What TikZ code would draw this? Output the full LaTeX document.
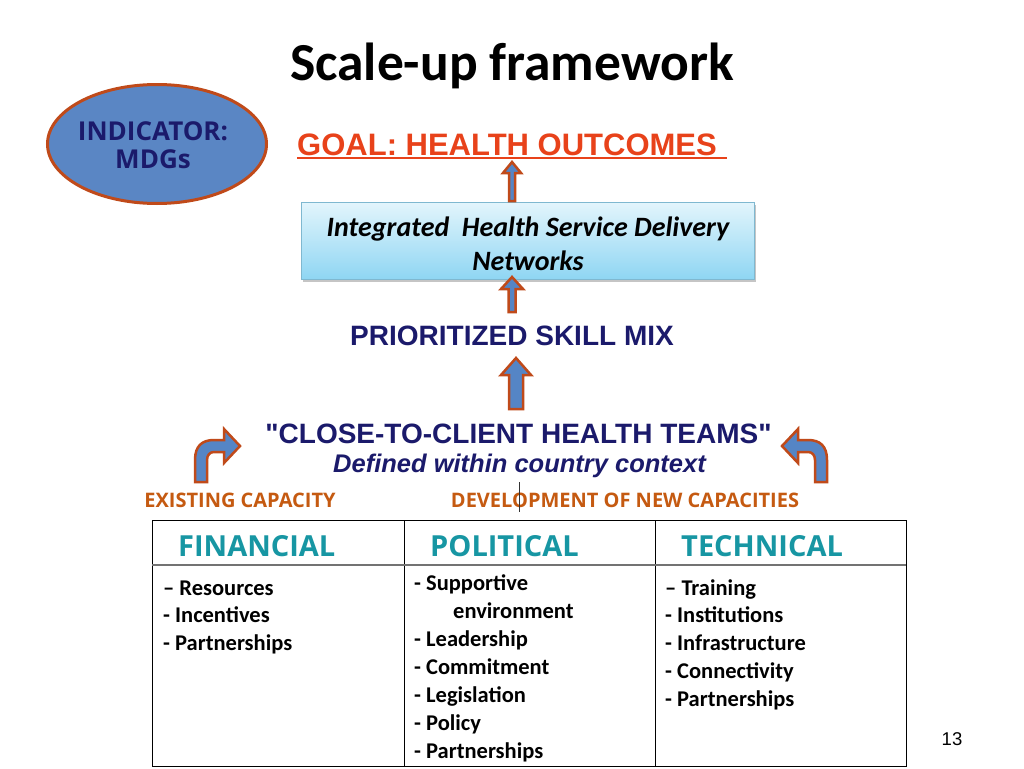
\documentclass[tikz,border=0pt]{standalone}
\usepackage{fontspec}
\setmainfont{Carlito}
\newfontfamily\arialf{Liberation Sans}
\newfontfamily\osans{Open Sans}
\usetikzlibrary{calc,shadows,shapes.geometric}
\definecolor{navy}{HTML}{1B1A6B}
\definecolor{rust}{HTML}{C04A1A}
\definecolor{goalred}{HTML}{E8421A}
\definecolor{capcol}{HTML}{C55A11}
\definecolor{tealc}{HTML}{1796A3}
\definecolor{arrowblue}{HTML}{5585C5}
\definecolor{ellblue}{HTML}{5A86C4}
\definecolor{boxtop}{HTML}{E3F5FC}
\definecolor{boxbot}{HTML}{8FD6F3}
\definecolor{boxedge}{HTML}{7FB8D0}
\newcommand\blockup[5]{\draw[barrow] let \p1=(#1), \p2=(#2) in
  (\x1-#3,\y1) -- (\x1-#3,\y2-#5) -- (\x1-#4,\y2-#5) -- (\x1,\y2) --
  (\x1+#4,\y2-#5) -- (\x1+#3,\y2-#5) -- (\x1+#3,\y1) -- cycle;}
\begin{document}
\begin{tikzpicture}[x=1pt,y=-1pt,
  barrow/.style={fill=arrowblue, draw=rust, line width=2.5pt, line join=miter},
  txt/.style={anchor=base, inner sep=0pt},
  item/.style={anchor=base west, inner sep=0pt, font=\fontsize{22.5}{27}\selectfont\bfseries},
  headtxt/.style={anchor=base west, inner sep=0pt, text=tealc, font=\osans\fontsize{29}{32}\selectfont\bfseries},
  caplabel/.style={anchor=base, inner sep=0pt, text=capcol, font=\osans\fontsize{20}{24}\selectfont\bfseries},
  curvearrow/.pic={\draw[barrow] (195,482) -- (195,460) .. controls (195,446) and (202,440) .. (214,440)
     -- (224,440) -- (224,429) -- (240,446) -- (224,463) -- (224,452) -- (214,452)
     .. controls (210,452) and (207,455) .. (207,460) -- (207,482) -- cycle;}
]
\useasboundingbox (0,0) rectangle (1024,768);
\fill[white] (0,0) rectangle (1024,768);

% title
\node[txt] (title) at (512,80) {\fontsize{53.5}{60}\selectfont\bfseries Scale-up framework};

% indicator ellipse
\node[ellipse, draw=rust, line width=3pt, fill=ellblue, minimum width=219, minimum height=119,
      inner sep=0pt] (ind) at (157,144) {};
\node[align=center, inner sep=0pt, text=navy, font=\osans\fontsize{26}{28.5}\selectfont\bfseries]
      (indtxt) at (153,145) {INDICATOR:\\MDGs};

% goal
\node[anchor=base west, inner sep=0pt, text=goalred, font=\arialf\fontsize{31}{36}\selectfont\bfseries]
      (goal) at (297,155) {GOAL: HEALTH OUTCOMES};
\draw[goalred, line width=1.5pt] ([yshift=-3pt]goal.base west) -- ++(430,0) coordinate (goalend);

% box
\node[draw=boxedge, line width=1pt, top color=boxtop, bottom color=boxbot,
      minimum width=453, minimum height=77, inner sep=0pt,
      drop shadow={shadow xshift=2pt, shadow yshift=-3pt, opacity=0.45}]
      (box) at (527.5,240.5) {};
\node[align=center, inner sep=0pt, font=\fontsize{28}{34}\selectfont\bfseries\itshape]
      (boxtxt) at (528,243.5) {Integrated\ \ Health Service Delivery\\Networks};

% prioritized
\node[txt, text=navy, font=\arialf\fontsize{28}{32}\selectfont\bfseries] (skill) at (512,345) {PRIORITIZED SKILL MIX};

% teams
\node[txt, text=navy, font=\arialf\fontsize{28}{32}\selectfont\bfseries] (teams) at (518.5,443) {"CLOSE-TO-CLIENT HEALTH TEAMS"};
\node[txt, text=navy, font=\arialf\fontsize{25.5}{30}\selectfont\bfseries\itshape] (ctx) at (519.5,472) {Defined within country context};

% vertical arrows
\coordinate (a1b) at (512,201); \coordinate (a1t) at (512,162);
\coordinate (a2b) at (512,312); \coordinate (a2t) at (512,277);
\coordinate (a3b) at (516,409); \coordinate (a3t) at (516,358);
\blockup{a1b}{a1t}{3pt}{9pt}{11pt}
\blockup{a2b}{a2t}{3.5pt}{11pt}{12pt}
\blockup{a3b}{a3t}{7pt}{15pt}{17pt}

% curved arrows
\pic at (0,0) {curvearrow};
\pic[xscale=-1] at (1022,0) {curvearrow};

% capacity labels
\node[caplabel] (exist) at (240,507) {EXISTING CAPACITY};
\node[caplabel] (devel) at (625,507) {DEVELOPMENT OF NEW CAPACITIES};
\coordinate (vl1) at (519,482); \coordinate (vl2) at (519,512);
\draw[line width=0.8pt, black!80] (vl1) -- (vl2);

% table
\draw[line width=1pt] (152,520) rectangle (906,766);
\draw[line width=1pt] (404,520) -- (404,766);
\draw[line width=1pt] (655,520) -- (655,766);
\draw[line width=1.5pt, black!55] (152,565) -- (906,565);

\node[headtxt] (hfin) at (178,556) {FINANCIAL};
\node[headtxt] (hpol) at (430,556) {POLITICAL};
\node[headtxt] (htec) at (681,556) {TECHNICAL};

\node[item] (f1) at (163,595) {–\ Resources};
\node[item] (f2) at (163,622) {- Incentives};
\node[item] (f3) at (163,650) {- Partnerships};

\node[item] (p1) at (414,590) {- Supportive};
\node[item] (p2) at (453,618) {environment};
\node[item] (p3) at (414,646) {- Leadership};
\node[item] (p4) at (414,674) {- Commitment};
\node[item] (p5) at (414,702) {- Legislation};
\node[item] (p6) at (414,730) {- Policy};
\node[item] (p7) at (414,758) {- Partnerships};

\node[item] (t1) at (665,595) {–\ Training};
\node[item] (t2) at (665,622) {- Institutions};
\node[item] (t3) at (665,650) {- Infrastructure};
\node[item] (t4) at (665,678) {- Connectivity};
\node[item] (t5) at (665,706) {- Partnerships};

% page number
\node[txt, font=\arialf\fontsize{18.5}{20}\selectfont] (pg) at (952,745) {13};
\end{tikzpicture}
\end{document}
